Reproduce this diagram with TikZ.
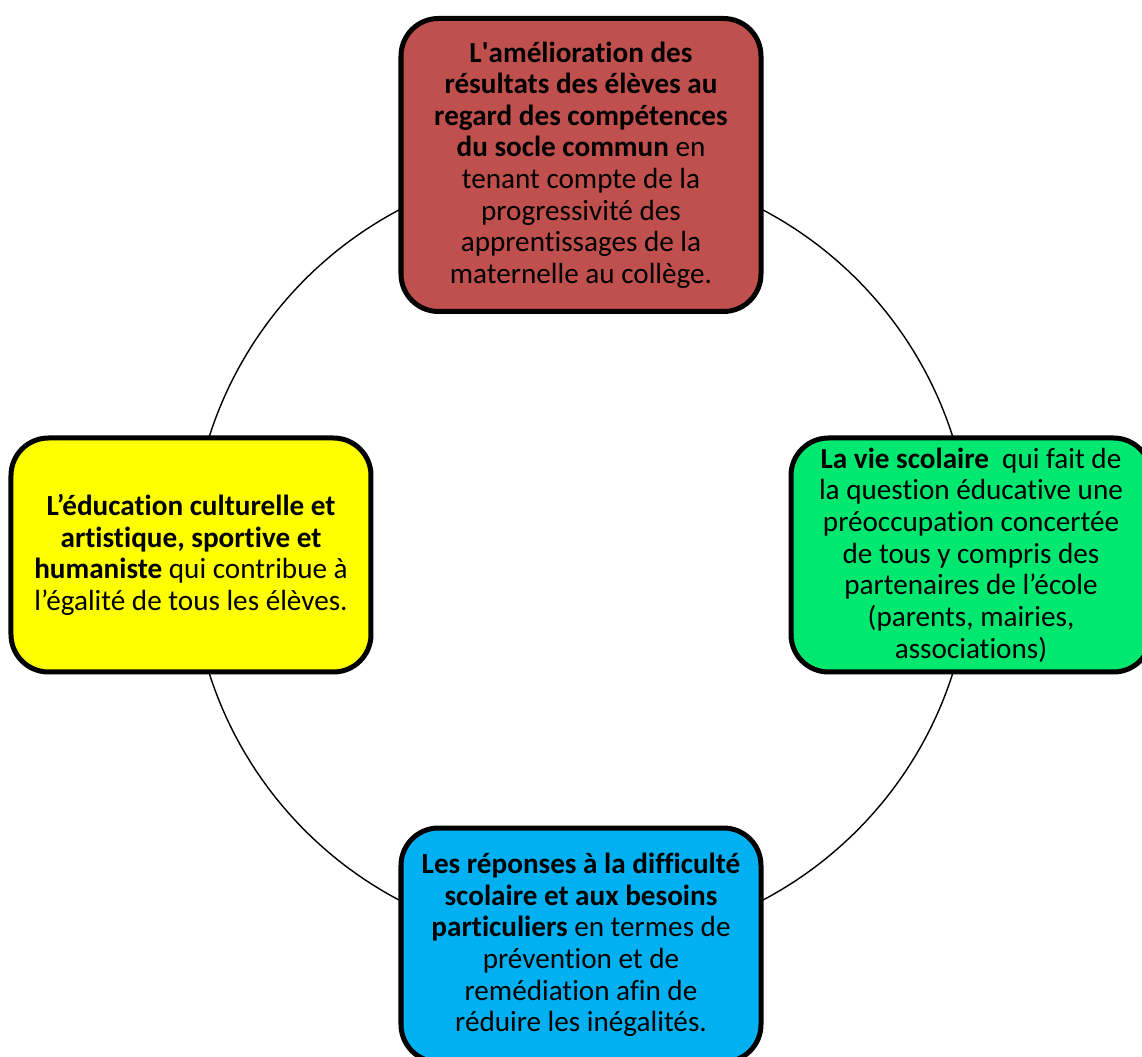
\documentclass[tikz,border=0pt]{standalone}
\usepackage{fontspec}
\setmainfont[Ligatures=NoCommon]{Carlito}
\definecolor{rouge}{RGB}{192,80,77}
\definecolor{vert}{RGB}{0,232,112}
\definecolor{jaune}{RGB}{255,255,0}
\definecolor{bleu}{RGB}{0,176,240}

\begin{document}
\begin{tikzpicture}[
   axe/.style={draw,line width=0.1cm,rounded corners=0.75cm,align=center,
      inner sep=0pt,minimum width=7.2cm,font=\fontsize{16.6}{18}\selectfont},
   cote/.style={axe,minimum height=4.68cm}]
   \useasboundingbox (-11.62,-10.04) rectangle (11.22,11.1);
   \coordinate (centre) at (0,0);
   \draw[line width=0.8pt] (centre) circle (7.8cm);
   \node[axe,fill=rouge,minimum height=5.86cm] (amelioration) at (90:7.8cm)
      {\textbf{L\textquotesingle amélioration des}\\ \textbf{résultats des élèves au}\\
       \textbf{regard des compétences}\\ \textbf{du socle commun} en\\
       tenant compte de la\\ progressivité des\\ apprentissages de la\\
       maternelle au collège.};
   \node[cote,fill=vert] (viescolaire) at (0:7.8cm)
      {\textbf{La vie scolaire}~ qui fait de\\ la question éducative une\\
       préoccupation concertée\\ de tous y compris des\\ partenaires de l’école\\
       (parents, mairies,\\ associations)};
   \node[cote,fill=bleu] (reponses) at (270:7.8cm)
      {\textbf{Les réponses à la difficulté}\\ \textbf{scolaire et aux besoins}\\
       \textbf{particuliers} en termes de\\ prévention et de\\
       remédiation afin de\\ réduire les inégalités.};
   \node[cote,fill=jaune] (education) at (180:7.8cm)
      {\textbf{L’éducation culturelle et}\\ \textbf{artistique, sportive et}\\
       \textbf{humaniste} qui contribue à\\ l’égalité de tous les élèves.};
\end{tikzpicture}
\end{document}
